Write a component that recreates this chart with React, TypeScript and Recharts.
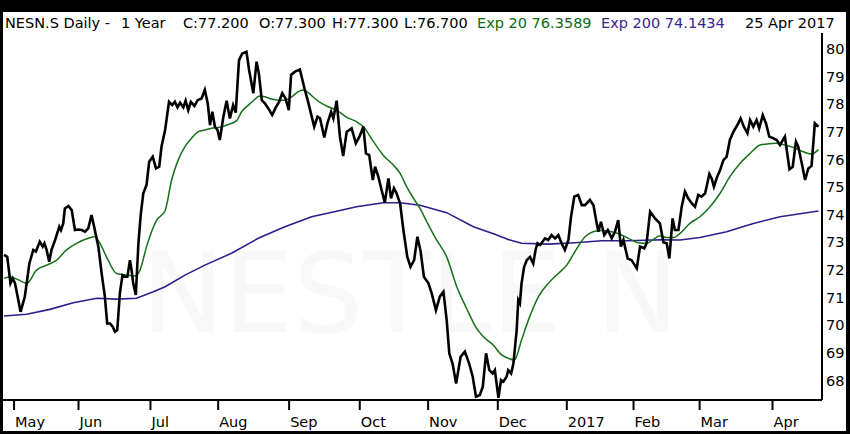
import React from 'react';
import { LineChart, Line, XAxis, YAxis } from 'recharts';

// Trading-day index (0 = 27 Apr 2016) and daily close
const priceDay = [
  0.1, 1.1, 2.1, 2.8, 3.5, 5.2, 6.5, 7.9, 9.1, 9.9, 11.1, 12.0, 12.5, 13.2, 14.0, 14.7, 15.8, 17.1, 17.6, 18.3,
  18.8, 19.9, 20.9, 21.9, 23.0, 24.0, 25.0, 26.0, 27.0, 27.8, 29.1, 30.1, 31.1, 31.8, 32.7, 33.5, 34.2, 34.9, 35.7, 36.5,
  37.3, 38.0, 38.8, 39.3, 39.8, 40.6, 41.4, 42.1, 42.9, 43.9, 44.7, 45.8, 46.8, 47.8, 48.5, 49.6, 50.8, 51.8, 52.6, 53.4,
  54.2, 55.2, 55.9, 56.7, 57.5, 58.6, 59.6, 60.8, 61.8, 62.7, 63.4, 64.1, 64.9, 65.7, 66.4, 67.5, 68.5, 69.5, 70.5, 71.3,
  72.3, 73.3, 74.6, 75.4, 76.7, 77.7, 78.4, 79.3, 80.3, 81.3, 82.5, 83.6, 84.6, 85.6, 86.6, 87.6, 88.3, 89.5, 91.0, 92.4,
  93.4, 94.4, 95.4, 96.4, 97.2, 98.5, 99.5, 100.6, 101.3, 102.3, 103.3, 104.3, 105.4, 106.9, 108.2, 109.3, 110.5, 111.3, 112.3, 113.4,
  114.1, 115.1, 116.1, 117.1, 118.2, 119.0, 119.9, 120.7, 121.8, 122.8, 124.0, 125.0, 126.1, 127.1, 128.1, 129.1, 130.5, 131.5, 132.8, 134.0,
  135.1, 136.1, 136.9, 137.9, 139.0, 140.4, 141.7, 143.0, 144.1, 145.1, 146.3, 147.2, 148.2, 149.2, 150.2, 150.9, 152.0, 152.8, 153.5, 154.5,
  155.0, 155.9, 156.6, 157.6, 158.1, 158.6, 159.1, 159.9, 160.7, 161.7, 162.7, 163.4, 164.0, 164.8, 166.3, 167.3, 168.3, 169.4, 170.4, 171.4,
  172.4, 173.5, 174.3, 175.3, 176.5, 177.6, 178.6, 180.1, 181.2, 182.0, 182.7, 183.5, 184.5, 185.6, 186.8, 187.8, 188.8, 189.6, 190.4, 191.7,
  192.9, 194.5, 195.5, 196.8, 197.5, 198.6, 200.1, 201.6, 202.7, 203.7, 204.5, 205.5, 206.2, 207.3, 208.3, 209.3, 210.3, 211.4, 212.4, 213.4,
  214.4, 215.5, 216.8, 217.5, 218.2, 219.2, 220.1, 221.1, 222.1, 223.1, 224.2, 225.4, 226.4, 227.4, 228.5, 229.3, 230.3, 231.3, 232.1, 233.2,
  234.2, 235.2, 236.4, 237.5, 238.5, 240.0, 241.4, 242.4, 243.4, 244.1, 245.2, 246.2, 247.2, 248.2, 249.2, 250.3,
];
const priceClose = [
  72.55, 72.48, 71.52, 71.7, 71.52, 70.49, 71.04, 72.24, 72.73, 72.67, 73.03, 72.85, 72.97, 72.73, 72.3, 72.73, 73.09, 73.57, 73.45, 73.69,
  74.23, 74.32, 74.17, 73.45, 73.47, 73.45, 73.39, 73.51, 73.99, 73.57, 72.85, 71.88, 71.04, 70.07, 70.07, 69.95, 69.77, 69.83, 71.16, 71.82,
  71.76, 71.76, 72.36, 72.0, 71.52, 71.1, 72.97, 73.99, 74.78, 75.08, 75.92, 76.1, 75.68, 75.74, 76.47, 77.07, 78.09, 77.97, 78.09, 77.89,
  78.06, 77.89, 78.13, 77.79, 78.09, 77.94, 78.15, 78.21, 78.52, 78.03, 77.25, 77.73, 77.19, 77.07, 76.71, 77.55, 78.13, 77.49, 77.97, 77.7,
  79.6, 79.84, 79.9, 79.24, 78.4, 79.54, 79.12, 78.15, 78.03, 77.85, 77.61, 77.89, 78.09, 78.4, 78.21, 77.79, 79.06, 79.18, 79.26, 78.58,
  78.15, 77.67, 77.19, 77.55, 77.49, 76.8, 77.33, 77.73, 77.49, 78.13, 76.83, 76.13, 77.01, 77.13, 76.59, 76.83, 77.19, 76.22, 76.16, 75.26,
  75.74, 75.38, 74.9, 74.44, 75.32, 74.6, 74.96, 74.78, 74.41, 73.45, 72.48, 72.12, 72.36, 73.21, 72.67, 71.76, 71.52, 71.16, 70.55, 71.04,
  71.22, 70.19, 68.99, 68.62, 67.9, 68.87, 69.05, 68.62, 68.14, 67.42, 67.48, 67.78, 68.99, 68.38, 68.26, 68.38, 67.38, 68.02, 67.96, 68.14,
  68.38, 68.26, 68.62, 69.83, 70.92, 70.8, 71.52, 72.12, 72.36, 72.48, 72.24, 72.73, 72.97, 72.91, 73.15, 73.09, 73.27, 73.15, 73.27, 72.97,
  72.73, 73.09, 73.93, 74.66, 74.72, 74.35, 74.35, 74.54, 74.35, 73.81, 73.39, 73.75, 73.27, 73.45, 73.15, 73.39, 73.81, 72.85, 73.09, 72.42,
  72.36, 72.06, 72.85, 72.79, 72.97, 74.11, 73.87, 73.69, 73.0, 72.97, 72.42, 73.87, 73.45, 73.45, 74.29, 74.84, 74.6, 74.41, 74.29, 74.72,
  74.66, 74.78, 75.48, 75.32, 75.02, 75.38, 75.62, 75.98, 76.1, 76.71, 77.01, 77.25, 77.49, 77.19, 76.95, 77.43, 77.19, 77.43, 77.13, 77.61,
  77.31, 76.83, 76.77, 76.71, 76.53, 76.83, 75.65, 75.74, 76.65, 76.47, 75.86, 75.26, 75.68, 75.77, 77.31, 77.19,
];

const ema20Day = [
  0.1, 1.9, 3.5, 5.0, 7.1, 10.1, 13.2, 16.3, 19.3, 22.4, 26.0, 28.0, 29.6, 31.6, 34.7, 37.8, 40.3, 41.9, 43.9, 47.0,
  49.6, 51.6, 53.6, 55.7, 57.7, 59.8, 61.8, 63.9, 66.4, 69.0, 71.6, 73.1, 75.2, 76.7, 78.7, 80.3, 82.3, 84.4, 86.4, 88.5,
  90.5, 92.0, 93.6, 95.6, 97.7, 99.7, 102.3, 105.4, 108.4, 110.5, 113.6, 116.6, 119.7, 121.8, 123.8, 125.9, 127.9, 130.0, 133.0, 136.1,
  139.2, 142.2, 145.3, 147.4, 150.4, 153.0, 155.0, 156.9, 159.1, 161.2, 164.3, 167.3, 170.4, 173.0, 175.5, 178.6, 181.1, 183.7, 186.8, 189.3,
  191.9, 195.0, 197.5, 200.1, 201.6, 203.7, 205.7, 207.8, 210.8, 213.9, 217.0, 220.1, 223.1, 226.2, 229.3, 232.4, 234.4, 237.0, 240.0, 242.6,
  245.7, 248.2, 250.3,
];
const ema20Value = [
  71.7, 71.76, 71.7, 71.62, 71.52, 72.0, 72.18, 72.36, 72.73, 72.97, 73.15, 73.21, 72.97, 72.48, 71.88, 71.82, 71.79, 72.0, 72.85, 73.81,
  74.15, 75.26, 75.98, 76.47, 76.77, 77.01, 77.07, 77.13, 77.17, 77.27, 77.41, 77.73, 77.97, 78.13, 78.3, 78.27, 78.19, 78.15, 78.15, 78.27,
  78.46, 78.52, 78.42, 78.21, 78.03, 77.91, 77.79, 77.53, 77.37, 77.19, 76.65, 76.16, 75.8, 75.5, 75.02, 74.6, 74.23, 73.75, 73.09, 72.48,
  71.4, 70.62, 69.89, 69.59, 69.29, 68.93, 68.81, 68.75, 69.47, 70.19, 71.04, 71.52, 71.88, 72.18, 72.67, 73.21, 73.39, 73.43, 73.39, 73.3,
  73.15, 72.99, 72.97, 73.15, 73.24, 73.18, 73.18, 73.33, 73.69, 73.93, 74.29, 74.78, 75.38, 75.86, 76.22, 76.53, 76.56, 76.59, 76.53, 76.44,
  76.28, 76.2, 76.36,
];

const ema200Day = [
  0.1, 7.1, 14.2, 21.4, 28.6, 34.7, 40.8, 46.0, 49.6, 55.7, 61.8, 70.0, 78.2, 86.4, 94.6, 101.6, 108.4, 116.6, 121.8, 127.9,
  136.1, 144.3, 150.9, 155.0, 159.1, 167.3, 175.5, 183.7, 191.9, 201.6, 207.8, 213.9, 222.1, 230.3, 238.5, 250.3,
];
const ema200Value = [
  70.34, 70.4, 70.58, 70.82, 70.98, 70.95, 70.98, 71.22, 71.4, 71.82, 72.18, 72.61, 73.15, 73.57, 73.93, 74.11, 74.29, 74.44, 74.44, 74.35,
  74.08, 73.57, 73.3, 73.11, 72.97, 72.94, 72.99, 73.06, 73.06, 73.1, 73.09, 73.18, 73.39, 73.69, 73.93, 74.14,
];

const monthTickDay = [3.2, 23.0, 45.1, 65.9, 87.7, 109.4, 130.4, 151.8, 173.0, 193.5, 213.8, 236.2];
const monthTickLabel = ['May', 'Jun', 'Jul', 'Aug', 'Sep', 'Oct', 'Nov', 'Dec', '2017', 'Feb', 'Mar', 'Apr'];
const priceTicks = [68, 69, 70, 71, 72, 73, 74, 75, 76, 77, 78, 79, 80];

const headerParts = [
  { text: 'NESN.S Daily -', x: 5, color: '#000' },
  { text: '1 Year', x: 121, color: '#000' },
  { text: 'C:77.200', x: 183, color: '#000' },
  { text: 'O:77.300', x: 259, color: '#000' },
  { text: 'H:77.300', x: 332, color: '#000' },
  { text: 'L:76.700', x: 404, color: '#000' },
  { text: 'Exp 20 76.3589', x: 477, color: '#0c6a0c' },
  { text: 'Exp 200 74.1434', x: 601, color: '#3a2290' },
  { text: '25 Apr 2017', x: 745, color: '#000' },
];

const rows = (days: number[], vals: number[]) => days.map((d, i) => ({ d, v: vals[i] }));
const priceData = rows(priceDay, priceClose);
const ema20Data = rows(ema20Day, ema20Value);
const ema200Data = rows(ema200Day, ema200Value);

const FONT = '"DejaVu Sans", sans-serif';

const MonthTick = (props: any) => {
  const { x, payload } = props;
  const i = monthTickDay.indexOf(payload.value);
  return (
    <text x={x + 1} y={427} fontFamily={FONT} fontSize={14.5} fill="#000" textAnchor="start">
      {monthTickLabel[i]}
    </text>
  );
};

const PriceTick = (props: any) => {
  const { y, payload } = props;
  return (
    <text x={826} y={y} fontFamily={FONT} fontSize={14.5} fill="#000" textAnchor="start" dominantBaseline="central">
      {payload.value}
    </text>
  );
};

export default function App() {
  return (
    <div style={{ position: 'absolute', left: 0, top: 0, width: 850, height: 434, background: '#000', overflow: 'hidden' }}>
      <div style={{ position: 'absolute', left: 3, top: 12, width: 843, height: 419, background: '#fff' }} />
      <svg width={850} height={434} style={{ position: 'absolute', left: 0, top: 0 }}>
        <text x={410} y={332} textAnchor="middle" fontFamily={FONT} fontSize={110} fill="#f8f8f8">
          NESTLE N
        </text>
        {headerParts.map((p) => (
          <text key={p.text} x={p.x} y={28} fontFamily={FONT} fontSize={14.5} fill={p.color}>
            {p.text}
          </text>
        ))}
      </svg>
      <div style={{ position: 'absolute', left: 0, top: 0 }}>
        <LineChart width={850} height={434} margin={{ top: 33, right: 0, bottom: 0, left: 3 }}>
          <XAxis
            type="number"
            dataKey="d"
            domain={[-0.2, 251.4]}
            allowDataOverflow
            ticks={monthTickDay}
            interval={0}
            height={34}
            tickSize={10}
            axisLine={{ stroke: '#000', strokeWidth: 2 }}
            tickLine={{ stroke: '#000', strokeWidth: 2 }}
            tick={<MonthTick />}
          />
          <YAxis
            orientation="right"
            type="number"
            domain={[67.3, 80.58]}
            allowDataOverflow
            ticks={priceTicks}
            interval={0}
            width={28}
            tickLine={false}
            axisLine={{ stroke: '#000', strokeWidth: 2 }}
            tick={<PriceTick />}
          />
          <Line data={ema200Data} dataKey="v" type="linear" stroke="#2e1c8c" strokeWidth={1.6} dot={false} isAnimationActive={false} />
          <Line data={ema20Data} dataKey="v" type="monotone" stroke="#16701a" strokeWidth={1.5} dot={false} isAnimationActive={false} />
          <Line data={priceData} dataKey="v" type="linear" stroke="#000" strokeWidth={2.6} dot={false} isAnimationActive={false} strokeLinejoin="miter" />
        </LineChart>
      </div>
    </div>
  );
}
